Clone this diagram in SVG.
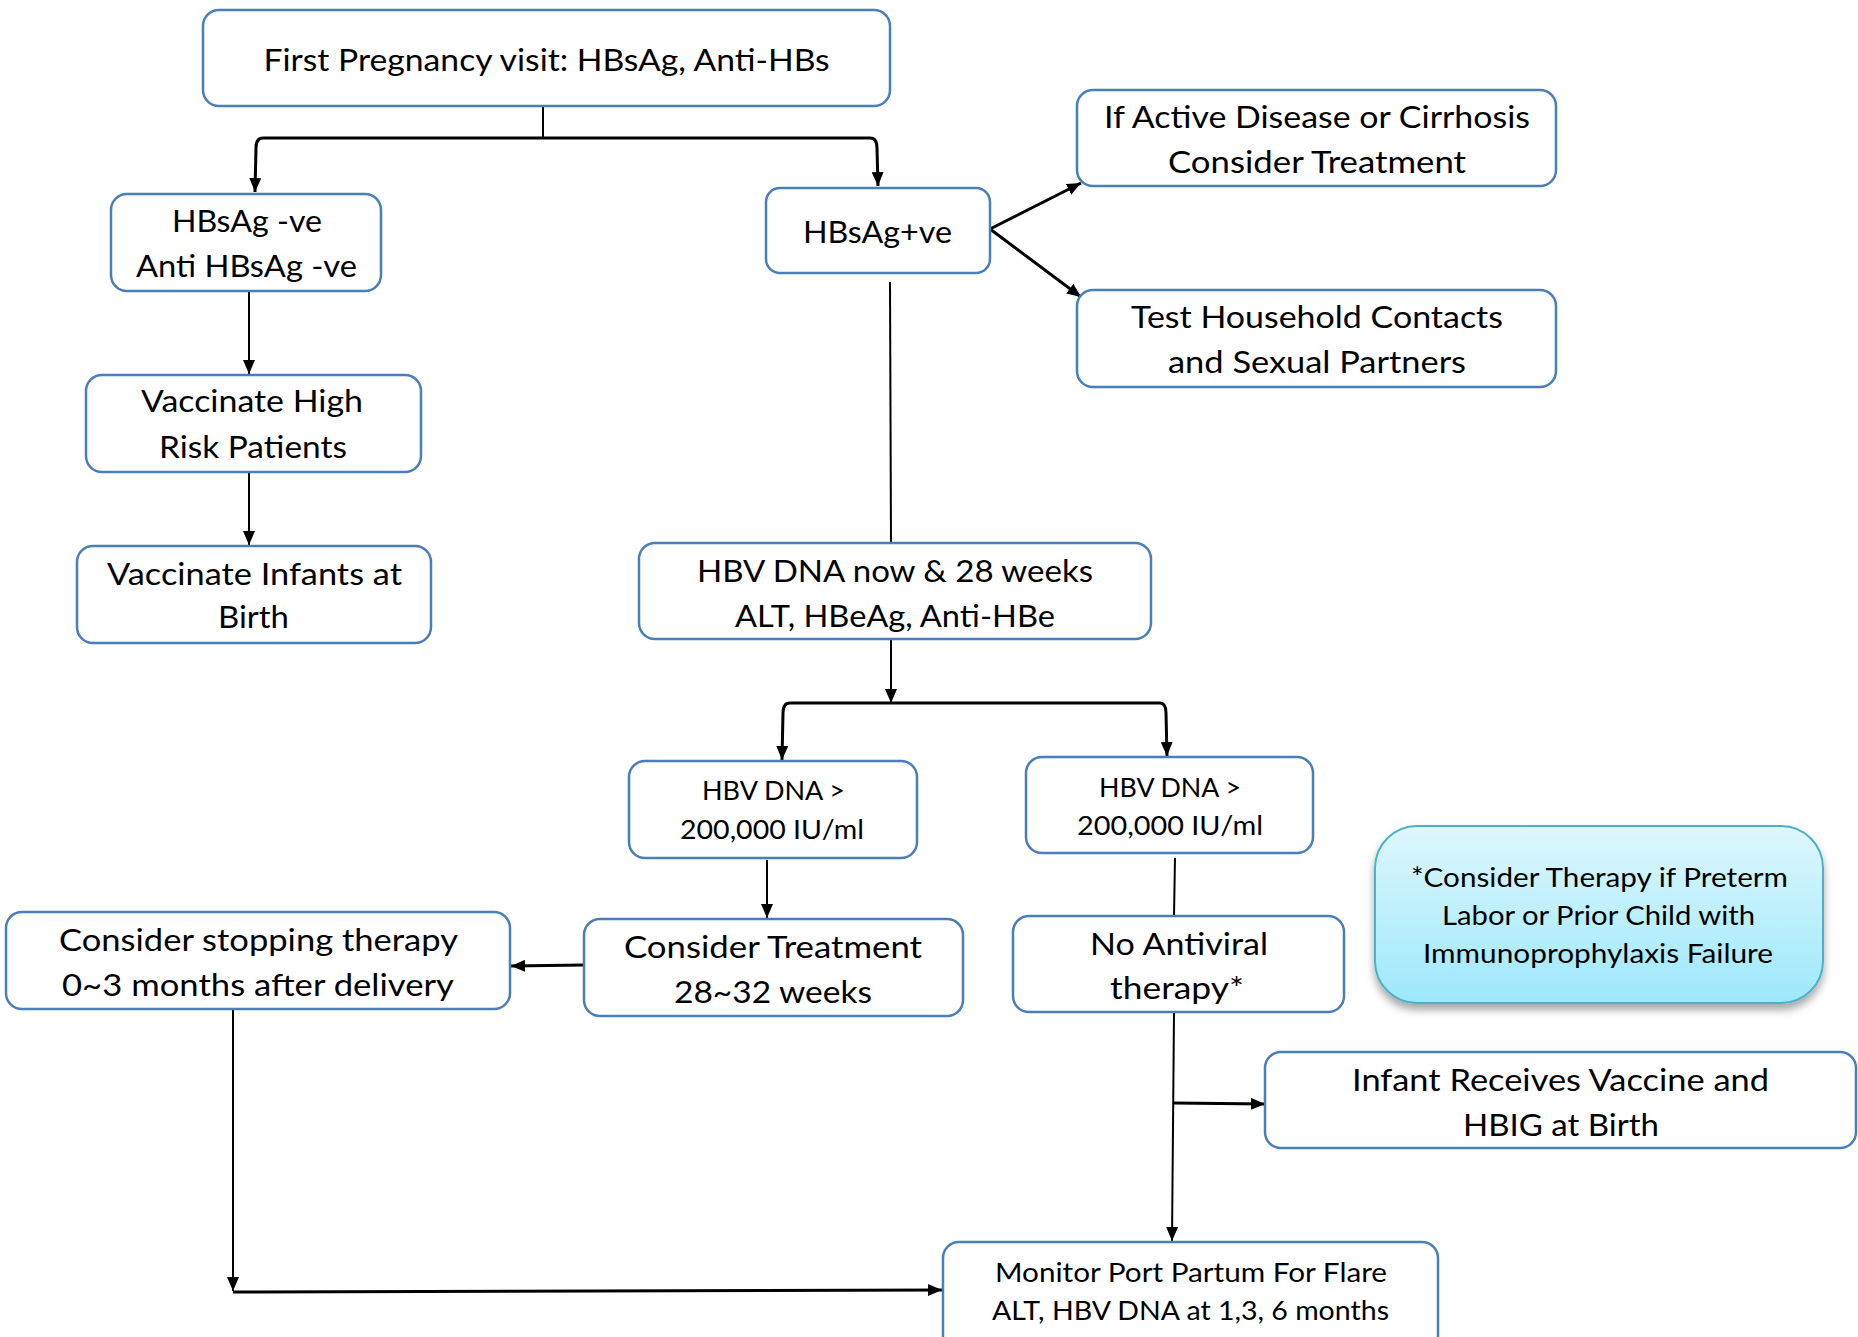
<svg xmlns="http://www.w3.org/2000/svg" width="1858" height="1337" viewBox="0 0 1858 1337">
<defs>
<style>
.box{fill:#fff;stroke:#4a7ebb;stroke-width:2.5}
.t{font-family:Lato,"Open Sans","Liberation Sans",sans-serif;font-size:31px;fill:#000;text-anchor:middle}
.s{font-size:26.5px}
.c{fill:none;stroke:#000;stroke-width:2}
.w{stroke-width:3}
</style>
<marker id="ah" viewBox="0 0 14 12" refX="14" refY="6" markerWidth="14" markerHeight="12" markerUnits="userSpaceOnUse" orient="auto">
<path d="M0,0 L14,6 L0,12 z" fill="#000"/>
</marker>
<linearGradient id="cy" x1="0" y1="0" x2="0" y2="1">
<stop offset="0" stop-color="#def7fd"/>
<stop offset="1" stop-color="#9de8fb"/>
</linearGradient>
<filter id="sh" x="-10%" y="-10%" width="120%" height="130%">
<feDropShadow dx="0" dy="6" stdDeviation="4" flood-color="#000" flood-opacity="0.35"/>
</filter>
</defs>
<rect width="1858" height="1337" fill="#fff"/>

<g id="connectors">
<path class="c" d="M543,106 V138"/>
<path class="c w" d="M543,138 H263 Q256,138 256,148 L255,192" marker-end="url(#ah)"/>
<path class="c w" d="M543,138 H870 Q877,138 877,148 L878,186" marker-end="url(#ah)"/>
<path class="c w" d="M990,229 L1081,183" marker-end="url(#ah)"/>
<path class="c w" d="M990,229 L1081,297" marker-end="url(#ah)"/>
<path class="c" d="M890,282 L891,543"/>
<path class="c" d="M249,291 V374" marker-end="url(#ah)"/>
<path class="c" d="M249,472 V545" marker-end="url(#ah)"/>
<path class="c" d="M891,639 V703" marker-end="url(#ah)"/>
<path class="c w" d="M891,703 H790 Q783,703 783,713 L782,760" marker-end="url(#ah)"/>
<path class="c w" d="M891,703 H1160 Q1166,703 1166,713 L1167,756" marker-end="url(#ah)"/>
<path class="c" d="M767,860 V918" marker-end="url(#ah)"/>
<path class="c" d="M1175,858 L1174,916"/>
<path class="c w" d="M584,965 L511,966" marker-end="url(#ah)"/>
<path class="c" d="M233,1009 V1291" marker-end="url(#ah)"/>
<path class="c w" d="M233,1292 L942,1290" marker-end="url(#ah)"/>
<path class="c" d="M1174,1012 L1172,1241" marker-end="url(#ah)"/>
<path class="c w" d="M1174,1103 L1265,1104" marker-end="url(#ah)"/>
</g>

<g id="n1"><rect class="box" x="203" y="10" width="687" height="96" rx="16"/>
<text class="t" x="546.5" y="71" textLength="566" lengthAdjust="spacingAndGlyphs">First Pregnancy visit: HBsAg, Anti-HBs</text></g>

<g id="n2"><rect class="box" x="111" y="194" width="270" height="97" rx="16"/>
<text class="t" x="247" y="232" textLength="150" lengthAdjust="spacingAndGlyphs">HBsAg -ve</text>
<text class="t" x="246.5" y="277" textLength="221" lengthAdjust="spacingAndGlyphs">Anti HBsAg -ve</text></g>

<g id="n3"><rect class="box" x="766" y="188" width="224" height="85" rx="14"/>
<text class="t" x="877.5" y="243" textLength="149" lengthAdjust="spacingAndGlyphs">HBsAg+ve</text></g>

<g id="n4"><rect class="box" x="1077" y="90" width="479" height="96" rx="16"/>
<text class="t" x="1317" y="128" textLength="426" lengthAdjust="spacingAndGlyphs">If Active Disease or Cirrhosis</text>
<text class="t" x="1317" y="173" textLength="298" lengthAdjust="spacingAndGlyphs">Consider Treatment</text></g>

<g id="n5"><rect class="box" x="1077" y="290" width="479" height="97" rx="16"/>
<text class="t" x="1317" y="328" textLength="372" lengthAdjust="spacingAndGlyphs">Test Household Contacts</text>
<text class="t" x="1317" y="373" textLength="298" lengthAdjust="spacingAndGlyphs">and Sexual Partners</text></g>

<g id="n6"><rect class="box" x="86" y="375" width="335" height="97" rx="16"/>
<text class="t" x="252" y="412" textLength="222" lengthAdjust="spacingAndGlyphs">Vaccinate High</text>
<text class="t" x="253" y="458" textLength="188" lengthAdjust="spacingAndGlyphs">Risk Patients</text></g>

<g id="n7"><rect class="box" x="77" y="546" width="354" height="97" rx="16"/>
<text class="t" x="254.5" y="585" textLength="295" lengthAdjust="spacingAndGlyphs">Vaccinate Infants at</text>
<text class="t" x="253.5" y="628" textLength="71" lengthAdjust="spacingAndGlyphs">Birth</text></g>

<g id="n8"><rect class="box" x="639" y="543" width="512" height="96" rx="16"/>
<text class="t" x="895" y="582" textLength="396" lengthAdjust="spacingAndGlyphs">HBV DNA now &amp; 28 weeks</text>
<text class="t" x="895" y="627" textLength="320" lengthAdjust="spacingAndGlyphs">ALT, HBeAg, Anti-HBe</text></g>

<g id="n9"><rect class="box" x="629" y="761" width="288" height="97" rx="16"/>
<text class="t s" x="773.5" y="800" textLength="143" lengthAdjust="spacingAndGlyphs">HBV DNA &gt;</text>
<text class="t s" x="772" y="839" textLength="184" lengthAdjust="spacingAndGlyphs">200,000 IU/ml</text></g>

<g id="n10"><rect class="box" x="1026" y="757" width="287" height="96" rx="16"/>
<text class="t s" x="1170" y="797" textLength="142" lengthAdjust="spacingAndGlyphs">HBV DNA &gt;</text>
<text class="t s" x="1170" y="835" textLength="186" lengthAdjust="spacingAndGlyphs">200,000 IU/ml</text></g>

<g id="n11"><rect class="box" x="6" y="912" width="504" height="97" rx="16"/>
<text class="t" x="258.5" y="951" textLength="399" lengthAdjust="spacingAndGlyphs">Consider stopping therapy</text>
<text class="t" x="258" y="996" textLength="392" lengthAdjust="spacingAndGlyphs">0~3 months after delivery</text></g>

<g id="n12"><rect class="box" x="584" y="919" width="379" height="97" rx="16"/>
<text class="t" x="773" y="958" textLength="298" lengthAdjust="spacingAndGlyphs">Consider Treatment</text>
<text class="t" x="773" y="1003" textLength="198" lengthAdjust="spacingAndGlyphs">28~32 weeks</text></g>

<g id="n13"><rect class="box" x="1013" y="916" width="331" height="96" rx="16"/>
<text class="t" x="1179" y="955" textLength="178" lengthAdjust="spacingAndGlyphs">No Antiviral</text>
<text class="t" x="1177" y="999" textLength="134" lengthAdjust="spacingAndGlyphs">therapy*</text></g>

<g id="n14"><rect x="1375" y="826" width="448" height="177" rx="42" fill="url(#cy)" stroke="#4eb0c8" stroke-width="2" filter="url(#sh)"/>
<text class="t s" x="1599.5" y="887" textLength="377" lengthAdjust="spacingAndGlyphs">*Consider Therapy if Preterm</text>
<text class="t s" x="1598.5" y="925" textLength="313" lengthAdjust="spacingAndGlyphs">Labor or Prior Child with</text>
<text class="t s" x="1598" y="963" textLength="350" lengthAdjust="spacingAndGlyphs">Immunoprophylaxis Failure</text></g>

<g id="n15"><rect class="box" x="1265" y="1052" width="591" height="96" rx="16"/>
<text class="t" x="1560.5" y="1091" textLength="417" lengthAdjust="spacingAndGlyphs">Infant Receives Vaccine and</text>
<text class="t" x="1561" y="1136" textLength="196" lengthAdjust="spacingAndGlyphs">HBIG at Birth</text></g>

<g id="n16"><rect class="box" x="943" y="1242" width="495" height="110" rx="16"/>
<text class="t s" x="1191" y="1282" textLength="392" lengthAdjust="spacingAndGlyphs">Monitor Port Partum For Flare</text>
<text class="t s" x="1190.5" y="1320" textLength="397" lengthAdjust="spacingAndGlyphs">ALT, HBV DNA at 1,3, 6 months</text></g>
</svg>
